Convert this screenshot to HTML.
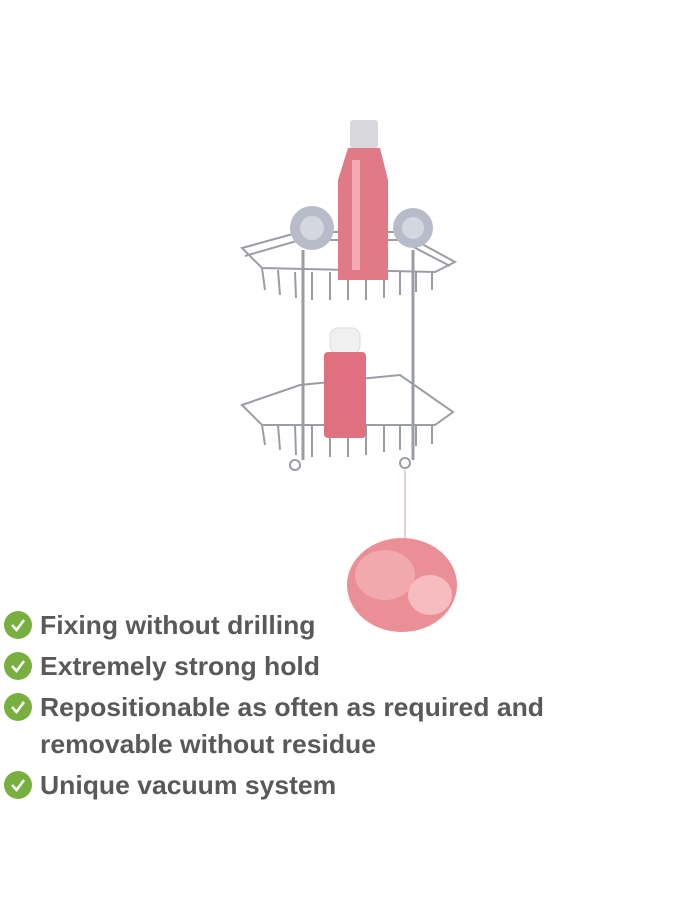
<!DOCTYPE html>
<html><head><meta charset="utf-8"><style>
html,body{margin:0;padding:0;background:#fff;width:690px;height:920px;overflow:hidden;position:relative}
.l{position:absolute;left:40px;font-family:"Liberation Sans",sans-serif;font-weight:bold;font-size:26px;color:#595959;white-space:nowrap;transform-origin:0 0;transform:scaleX(1.02);line-height:30px}
.c{position:absolute;left:4px;width:28px;height:28px;border-radius:50%;background:#78b040}
.c svg{position:absolute;left:0;top:0}
</style></head><body>
<svg width="690" height="920" style="position:absolute;left:0;top:0">
 <g stroke="#9a9ea4" fill="none" stroke-width="2">
  <path d="M242 248 L300 232 L400 232 L455 262 L435 272 L262 268 Z"/>
  <path d="M245 256 L300 240 L400 240 L450 266"/>
  <path d="M262 268 L265 290 M278 270 L280 295 M295 272 L296 298 M312 272 L312 300 M330 272 L330 300 M348 272 L348 300 M366 272 L366 300 M384 272 L384 298 M400 272 L400 295 M416 272 L416 292 M432 272 L432 290"/>
  <path d="M242 405 L300 385 L400 375 L453 412 L435 425 L262 425 Z"/>
  <path d="M262 425 L265 445 M278 425 L280 450 M295 425 L296 455 M312 425 L312 457 M330 425 L330 457 M348 425 L348 457 M366 425 L366 455 M384 425 L384 452 M400 425 L400 450 M416 425 L416 446 M432 425 L432 444"/>
  <path d="M303 250 L303 460 M413 250 L413 460" stroke-width="3"/>
  <circle cx="295" cy="465" r="5"/><circle cx="405" cy="463" r="5"/>
 </g>
 <circle cx="312" cy="228" r="22" fill="#b8bcc8"/><circle cx="312" cy="228" r="12" fill="#d4d7e0"/>
 <circle cx="413" cy="228" r="20" fill="#b8bcc8"/><circle cx="413" cy="228" r="11" fill="#d4d7e0"/>
 <rect x="350" y="120" width="28" height="28" rx="3" fill="#d8d8dc"/>
 <path d="M348 148 L380 148 L388 180 L388 280 L338 280 L338 180 Z" fill="#e07a86"/>
 <rect x="352" y="160" width="8" height="110" fill="#f3aab3"/>
 <rect x="330" y="328" width="30" height="26" rx="8" fill="#f0f0f0" stroke="#ddd"/>
 <rect x="324" y="352" width="42" height="86" rx="4" fill="#e0707e"/>
 <line x1="405" y1="470" x2="405" y2="545" stroke="#e8d0d4" stroke-width="2"/>
 <ellipse cx="402" cy="585" rx="55" ry="47" fill="#eb8f96"/>
 <ellipse cx="385" cy="575" rx="30" ry="25" fill="#f2a9ad"/>
 <ellipse cx="430" cy="595" rx="22" ry="20" fill="#f6bcbf"/>
</svg>
<div class="c" style="top:611px"><svg width="28" height="28"><path d="M8 14 L12.5 19 L20 9" stroke="#fff" stroke-width="2.5" fill="none"/></svg></div>
<div class="l" style="top:610px">Fixing without drilling</div>
<div class="c" style="top:652px"><svg width="28" height="28"><path d="M8 14 L12.5 19 L20 9" stroke="#fff" stroke-width="2.5" fill="none"/></svg></div>
<div class="l" style="top:651px">Extremely strong hold</div>
<div class="c" style="top:693px"><svg width="28" height="28"><path d="M8 14 L12.5 19 L20 9" stroke="#fff" stroke-width="2.5" fill="none"/></svg></div>
<div class="l" style="top:692px">Repositionable as often as required and</div>
<div class="l" style="top:729px">removable without residue</div>
<div class="c" style="top:771px"><svg width="28" height="28"><path d="M8 14 L12.5 19 L20 9" stroke="#fff" stroke-width="2.5" fill="none"/></svg></div>
<div class="l" style="top:770px">Unique vacuum system</div>
</body></html>
